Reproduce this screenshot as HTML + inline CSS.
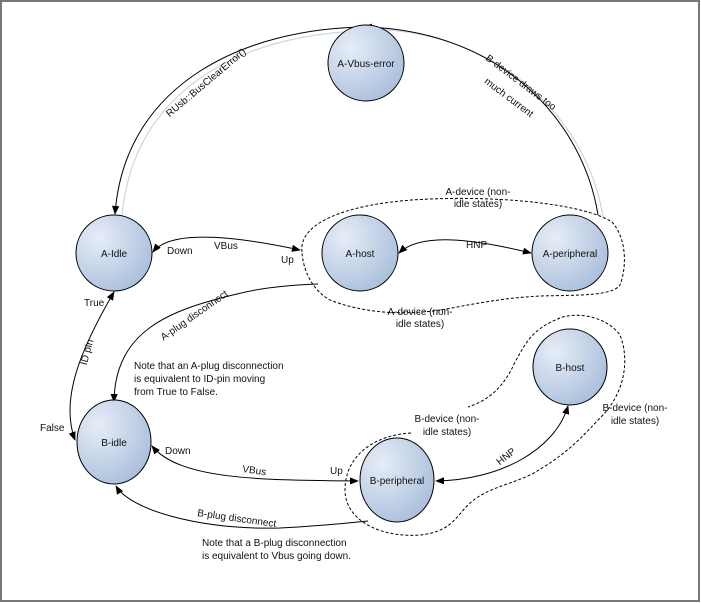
<!DOCTYPE html>
<html><head><meta charset="utf-8"><style>
html,body{margin:0;padding:0;background:#fff}
svg{display:block}
text{font-family:"Liberation Sans",Arial,sans-serif;font-size:10px;fill:#111}
</style></head><body>
<svg width="701" height="603" viewBox="0 0 701 603" xmlns="http://www.w3.org/2000/svg">
<defs>
<radialGradient id="g" cx="0.3" cy="0.3" r="0.8">
<stop offset="0" stop-color="#e6edf7"/><stop offset="1" stop-color="#a9bedb"/>
</radialGradient>
<marker id="ar" viewBox="0 0 10 10" refX="9" refY="5" markerWidth="9" markerHeight="9" orient="auto-start-reverse" markerUnits="userSpaceOnUse">
<path d="M0,1 L10,5 L0,9 z" fill="#000"/></marker>
</defs>
<rect x="1" y="1" width="698" height="600" fill="#fff" stroke="#777" stroke-width="2"/>

<!-- dashed boundaries -->
<path d="M302,252 C298,222 350,202 430,199 C510,196 585,205 612,222 C628,240 626,270 620,285 C612,296 580,295 540,296 C500,298 470,305 440,310 C400,316 360,312 330,300 C312,290 303,270 302,252 Z" fill="none" stroke="#000" stroke-dasharray="3,2"/>
<path d="M411,433 C375,435 345,455 345,490 C345,520 380,538 420,535 C450,532 455,518 468,505 C485,488 510,485 532,474 C560,458 575,445 598,420 C625,395 630,360 620,335 C605,315 575,312 560,318 C530,330 525,345 515,362 C505,385 490,400 468,407" fill="none" stroke="#000" stroke-dasharray="3,2"/>

<!-- top arcs -->
<path d="M600,215 C585,120 500,30 368,27" fill="none" stroke="#c8d6ea" stroke-width="1.2" transform="translate(3,2)"/>
<path d="M365,29 C250,30 130,80 118,214" fill="none" stroke="#c8d6ea" stroke-width="1.2" transform="translate(4,2)"/>
<path d="M598,215 C583,120 500,30 364,27" fill="none" stroke="#000" marker-end="url(#ar)"/>
<path d="M366,27 C250,28 125,80 115,214" fill="none" stroke="#000" marker-end="url(#ar)"/>

<!-- A-Idle <-> A-device -->
<path d="M153,252 C170,230 230,235 300,250" fill="none" stroke="#000" marker-start="url(#ar)" marker-end="url(#ar)"/>
<!-- HNP A -->
<path d="M399,253 C420,233 470,238 531,253" fill="none" stroke="#000" marker-start="url(#ar)" marker-end="url(#ar)"/>
<!-- A-plug disconnect -->
<path d="M318,284 C290,285 260,288 237,294 C170,310 115,330 114,402" fill="none" stroke="#000" marker-end="url(#ar)"/>
<!-- ID pin -->
<path d="M114,292 C80,350 60,400 75,440" fill="none" stroke="#000" marker-start="url(#ar)" marker-end="url(#ar)"/>
<!-- B VBus -->
<path d="M152,446 C180,480 260,480 358,481" fill="none" stroke="#000" marker-start="url(#ar)" marker-end="url(#ar)"/>
<!-- B-plug disconnect -->
<path d="M368,521 C330,525 300,527 280,528 C200,530 130,510 116,486" fill="none" stroke="#000" marker-end="url(#ar)"/>
<!-- HNP B -->
<path d="M568,406 C555,450 500,480 436,481" fill="none" stroke="#000" marker-start="url(#ar)" marker-end="url(#ar)"/>

<!-- nodes -->
<g stroke="#000" fill="url(#g)">
<ellipse cx="366" cy="63" rx="38" ry="38"/>
<ellipse cx="114" cy="253" rx="38" ry="38"/>
<ellipse cx="360" cy="253" rx="38" ry="38"/>
<ellipse cx="570" cy="253" rx="38" ry="38"/>
<ellipse cx="570" cy="367" rx="37" ry="38"/>
<ellipse cx="114" cy="442" rx="37" ry="42"/>
<ellipse cx="397" cy="480" rx="37" ry="42"/>
</g>
<g text-anchor="middle">
<text x="366" y="67">A-Vbus-error</text>
<text x="114" y="257">A-Idle</text>
<text x="360" y="257">A-host</text>
<text x="570" y="257">A-peripheral</text>
<text x="570" y="371">B-host</text>
<text x="114" y="446">B-idle</text>
<text x="397" y="484">B-peripheral</text>
</g>

<!-- labels -->
<g fill="#fff"><rect x="206" y="70" width="1" height="1"/></g>
<text x="0" y="0" text-anchor="middle" transform="translate(208,85) rotate(-40)">RUsb::BusClearError()</text>
<text x="0" y="0" text-anchor="middle" transform="translate(519,85) rotate(37)">B-device draws too</text>
<text x="0" y="0" text-anchor="middle" transform="translate(507,100) rotate(37)">much current</text>
<text x="167" y="254">Down</text>
<text x="214" y="249">VBus</text>
<text x="281" y="263">Up</text>
<text x="466" y="248">HNP</text>
<text x="478" y="195" text-anchor="middle">A-device (non-</text>
<text x="478" y="207" text-anchor="middle">idle states)</text>
<text x="420" y="315" text-anchor="middle">A-device (non-</text>
<text x="420" y="327" text-anchor="middle">idle states)</text>
<text x="0" y="0" text-anchor="middle" transform="translate(196,318) rotate(-35)">A-plug disconnect</text>
<text x="0" y="0" text-anchor="middle" transform="translate(90,353) rotate(-75)">ID pin</text>
<text x="84" y="306">True</text>
<text x="40" y="431">False</text>
<text x="134" y="369">Note that an A-plug disconnection</text>
<text x="134" y="382">is equivalent to ID-pin moving</text>
<text x="134" y="395">from True to False.</text>
<text x="165" y="454">Down</text>
<text x="0" y="0" transform="translate(242,472) rotate(8)">VBus</text>
<text x="330" y="474">Up</text>
<text x="0" y="0" transform="translate(197,516) rotate(8)">B-plug disconnect</text>
<text x="202" y="546">Note that a B-plug disconnection</text>
<text x="202" y="559">is equivalent to Vbus going down.</text>
<text x="0" y="0" text-anchor="middle" transform="translate(508,459) rotate(-38)">HNP</text>
<text x="447" y="422" text-anchor="middle">B-device (non-</text>
<text x="447" y="435" text-anchor="middle">idle states)</text>
<text x="635" y="411" text-anchor="middle">B-device (non-</text>
<text x="635" y="424" text-anchor="middle">idle states)</text>
</svg>
</body></html>
